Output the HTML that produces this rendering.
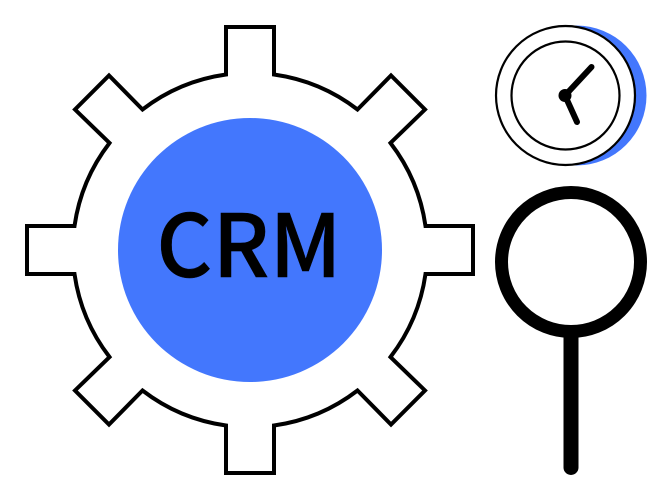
<!DOCTYPE html>
<html><head><meta charset="utf-8"><style>html,body{margin:0;padding:0;background:#fff}svg{display:block}</style></head>
<body>
<svg width="670" height="500" viewBox="0 0 670 500" xmlns="http://www.w3.org/2000/svg">
<path d="M226 74.5V27H274V74.5A177 177 0 0 1 357.5 109.5L391 75.5L425 109.5L390.5 143A177 177 0 0 1 425.5 226H473V274H425.5A177 177 0 0 1 390.5 357L425 390.5L391 424.5L357.5 390.5A177 177 0 0 1 274 425.5V473H226V425.5A177 177 0 0 1 142.5 390.5L109 424.5L75 390.5L109.5 357A177 177 0 0 1 74.5 274H27V226H74.5A177 177 0 0 1 109.5 143L75 109.5L109 75.5L142.5 109.5A177 177 0 0 1 226 74.5Z" fill="#fff" stroke="#000" stroke-width="4" stroke-linejoin="miter"/>
<circle cx="250" cy="250" r="132" fill="#4377fd"/>
<text x="249" y="277" text-anchor="middle" font-family="'Noto Sans CJK JP','Liberation Sans',sans-serif" font-size="87" font-weight="500" fill="#000" stroke="#000" stroke-width="0.4">CRM</text>
<circle cx="576.5" cy="95.5" r="70" fill="#4377fd"/>
<circle cx="565.5" cy="95.5" r="69.5" fill="#fff" stroke="#000" stroke-width="2.2"/>
<circle cx="565.5" cy="95.5" r="54" fill="#fff" stroke="#000" stroke-width="2.2"/>
<circle cx="565" cy="95.5" r="6.5" fill="#000"/>
<path d="M565 95.5L591.5 67M565 95.5L577 122" stroke="#000" stroke-width="6" stroke-linecap="round" fill="none"/>
<circle cx="571" cy="262" r="69.5" fill="#fff" stroke="#000" stroke-width="13"/>
<path d="M563.5 332H578.5V467.5A7.5 7.5 0 0 1 563.5 467.5Z" fill="#000"/>
</svg>
</body></html>
